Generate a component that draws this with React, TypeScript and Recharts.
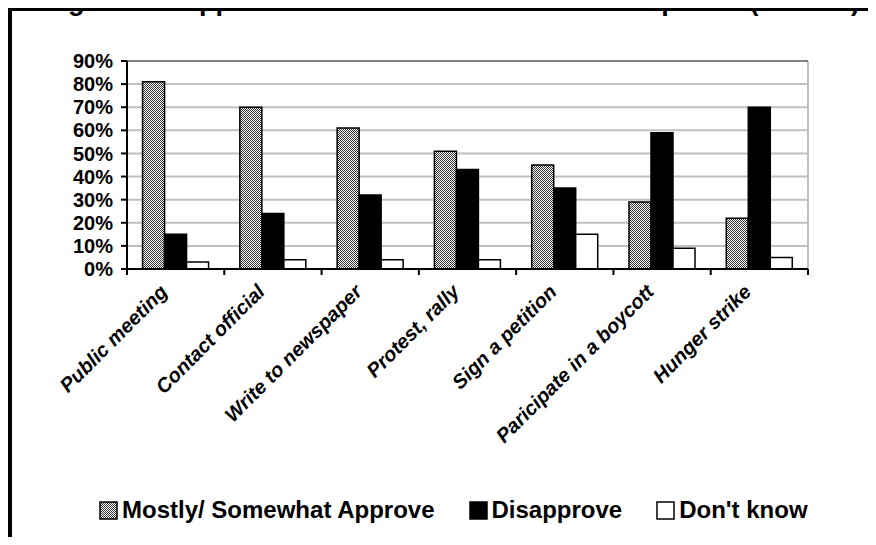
import { BarChart, Bar, XAxis, YAxis, CartesianGrid, Legend, ReferenceLine } from "recharts";

const categories = [
  "Public meeting",
  "Contact official",
  "Write to newspaper",
  "Protest, rally",
  "Sign a petition",
  "Paricipate in a boycott",
  "Hunger strike",
];
const approve = [81, 70, 61, 51, 45, 29, 22];
const disapprove = [15, 24, 32, 43, 35, 59, 70];
const dontKnow = [3, 4, 4, 4, 15, 9, 5];
const yTicks = [0, 10, 20, 30, 40, 50, 60, 70, 80, 90];

const SERIES = [
  { key: "approve", name: "Mostly/ Somewhat Approve", fill: "url(#hatch)" },
  { key: "disapprove", name: "Disapprove", fill: "#000" },
  { key: "dontKnow", name: "Don't know", fill: "#fff" },
];

const data = categories.map((name, i) => ({
  name,
  approve: approve[i],
  disapprove: disapprove[i],
  dontKnow: dontKnow[i],
}));

const FONT = "'Liberation Sans', Arial, sans-serif";

// fine dithered fill used for the "approve" bars and its legend key
function Hatch({ id }: { id: string }) {
  return (
    <pattern id={id} width="2" height="2" patternUnits="userSpaceOnUse">
      <rect width="2" height="2" fill="#fff" />
      <rect x="0" y="0" width="1" height="1" fill="#333" />
      <rect x="1" y="1" width="1" height="1" fill="#333" />
    </pattern>
  );
}

function XTick(props: any) {
  const { x, y, payload, index, visibleTicksCount } = props;
  const half = payload.offset ?? 48.6;
  const last = index === visibleTicksCount - 1;
  const tx = x - 7;
  const ty = y + 24;
  return (
    <g>
      <line x1={x - half} x2={x - half} y1={y} y2={y + 6} stroke="#000" strokeWidth={2} />
      {last && <line x1={x + half} x2={x + half} y1={y} y2={y + 6} stroke="#000" strokeWidth={2} />}
      <text
        x={tx}
        y={ty}
        transform={`rotate(-45, ${tx}, ${ty})`}
        textAnchor="end"
        fontFamily={FONT}
        fontWeight="bold"
        fontStyle="italic"
        fontSize={20}
        fill="#000"
      >
        {payload.value}
      </text>
    </g>
  );
}

function LegendContent() {
  return (
    <div style={{ display: "flex", alignItems: "center", fontFamily: FONT, fontWeight: "bold", fontSize: 24 }}>
      {SERIES.map((s, i) => (
        <div key={s.key} style={{ display: "flex", alignItems: "center", marginRight: i < SERIES.length - 1 ? 34 : 0 }}>
          <svg width={19} height={19} style={{ marginRight: 4 }}>
            <defs>
              <Hatch id="lhatch" />
            </defs>
            <rect x={1} y={1} width={17} height={17} fill={i === 0 ? "url(#lhatch)" : s.fill} stroke="#000" strokeWidth={1.5} />
          </svg>
          <span style={{ lineHeight: "24px" }}>{s.name}</span>
        </div>
      ))}
    </div>
  );
}

export default function App() {
  return (
    <div style={{ position: "relative", width: 868, height: 529 }}>
      <style>{"html,body{overflow:hidden}"}</style>
      {/* title sits above the frame and is cut off by the page top, as in the source */}
      <svg
        width={868}
        height={30}
        style={{ position: "absolute", top: -8, left: 0, overflow: "visible", zIndex: 2 }}
      >
        <text
          x={444}
          y={10}
          textAnchor="middle"
          fontFamily={FONT}
          fontWeight="bold"
          fontSize={27}
          fill="#000"
        >
          Figure 28: Approval of Different Forms of Participation (n=1000)
        </text>
      </svg>
      <div style={{ position: "absolute", top: -1, left: 0, width: 868, height: 4, background: "#000", zIndex: 3 }} />
      <div style={{ position: "absolute", top: -1, left: 0, width: 4, height: 546, background: "#000", zIndex: 3 }} />
      <BarChart
        width={868}
        height={537}
        data={data}
        margin={{ top: 53, right: 68, left: 59, bottom: 0 }}
        barCategoryGap="16%"
        barGap={0}
      >
        <defs>
          <Hatch id="hatch" />
        </defs>
        <CartesianGrid
          vertical={true}
          stroke="#c0c0c0"
          strokeWidth={2}
          verticalCoordinatesGenerator={({ offset }: any) => [offset.left + offset.width]}
        />
        <ReferenceLine y={90} stroke="#808080" strokeWidth={2} />
        <XAxis
          dataKey="name"
          height={226}
          interval={0}
          tickSize={0}
          tickMargin={0}
          axisLine={{ stroke: "#000", strokeWidth: 2 }}
          tick={<XTick />}
        />
        <YAxis
          width={60}
          domain={[0, 90]}
          ticks={yTicks}
          interval={0}
          tickFormatter={(v: number) => `${v}%`}
          tickSize={6}
          tickMargin={8}
          axisLine={{ stroke: "#000", strokeWidth: 2 }}
          tickLine={{ stroke: "#000", strokeWidth: 2 }}
          tick={{ fill: "#000", fontFamily: FONT, fontWeight: "bold", fontSize: 20 }}
        />
        <Legend
          verticalAlign="bottom"
          content={<LegendContent />}
          wrapperStyle={{ left: 91, top: 490, width: "auto", height: 50 }}
        />
        {SERIES.map((s) => (
          <Bar
            key={s.key}
            dataKey={s.key}
            name={s.name}
            fill={s.fill}
            stroke="#000"
            strokeWidth={1.5}
            isAnimationActive={false}
          />
        ))}
      </BarChart>
    </div>
  );
}
